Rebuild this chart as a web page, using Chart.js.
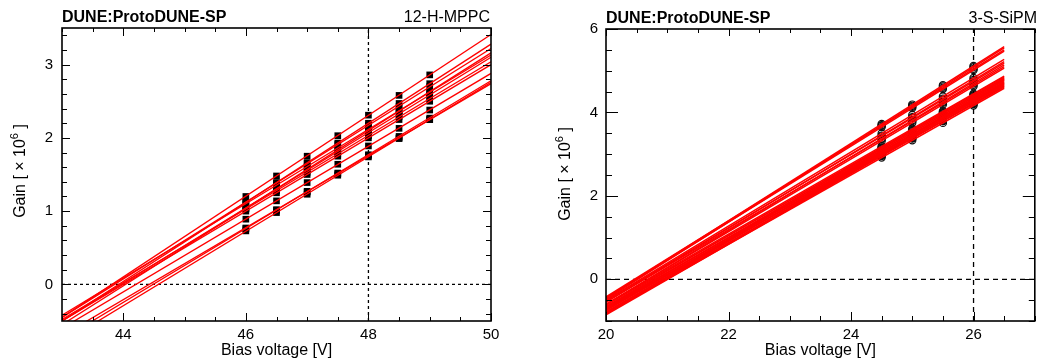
<!DOCTYPE html>
<html><head><meta charset="utf-8">
<script src="https://cdn.jsdelivr.net/npm/chart.js@4.4.1/dist/chart.umd.min.js"></script>
<style>
html,body{margin:0;padding:0;background:#fff;overflow:hidden}
#wrap{position:relative;width:1040px;height:363px;background:#fff}
canvas{position:absolute;top:0}
</style></head><body>
<div id="wrap">
<canvas id="c1" width="520" height="363" style="left:0"></canvas>
<canvas id="c2" width="520" height="363" style="left:520px"></canvas>
</div>
<script>
// ===== Left panel: 12-H-MPPC =====
const mppcVoltages = [46, 46.5, 47, 47.5, 48, 48.5, 49];
const mppcGain = [
  [1.20, 1.48, 1.75, 2.03, 2.31, 2.58, 2.86],
  [1.12, 1.39, 1.66, 1.93, 2.20, 2.47, 2.74],
  [1.12, 1.38, 1.65, 1.91, 2.17, 2.43, 2.70],
  [1.04, 1.31, 1.57, 1.84, 2.10, 2.37, 2.63],
  [1.10, 1.35, 1.61, 1.86, 2.12, 2.37, 2.62],
  [1.04, 1.30, 1.56, 1.81, 2.07, 2.33, 2.59],
  [1.03, 1.28, 1.53, 1.78, 2.03, 2.29, 2.54],
  [1.00, 1.25, 1.50, 1.75, 2.00, 2.25, 2.50],
  [0.89, 1.14, 1.39, 1.64, 1.89, 2.13, 2.38],
  [0.76, 1.01, 1.27, 1.52, 1.77, 2.02, 2.27],
  [0.73, 0.98, 1.23, 1.49, 1.74, 1.99, 2.25],
  [0.77, 1.02, 1.26, 1.51, 1.76, 2.00, 2.25]
];
const mppcFitRange = [43, 50];
const mppcFitGainStart = [-0.45, -0.50, -0.45, -0.55, -0.42, -0.50, -0.48, -0.50, -0.60, -0.75, -0.80, -0.70];
const mppcFitGainEnd   = [ 3.41,  3.28,  3.22,  3.16,  3.13,  3.10,  3.04,  3.00,  2.88,  2.78,  2.76,  2.74];
const mppcXTicks = [44, 46, 48, 50];
const mppcYTicks = [0, 1, 2, 3];
const mppcRefVoltage = 48;

// ===== Right panel: 3-S-SiPM =====
const sipmVoltages = [24.5, 25, 25.5, 26];
const sipmGain = [
  [3.725, 4.188, 4.652, 5.116],
  [3.695, 4.158, 4.622, 5.086],
  [3.678, 4.134, 4.589, 5.045],
  [3.648, 4.104, 4.559, 5.015],
  [3.495, 3.938, 4.382, 4.826],
  [3.445, 3.888, 4.332, 4.776],
  [3.426, 3.865, 4.303, 4.742],
  [3.374, 3.815, 4.257, 4.698],
  [3.362, 3.796, 4.231, 4.665],
  [3.318, 3.754, 4.189, 4.625],
  [3.187, 3.608, 4.029, 4.449],
  [3.158, 3.581, 4.004, 4.427],
  [3.128, 3.554, 3.979, 4.405],
  [3.139, 3.557, 3.975, 4.392],
  [3.085, 3.512, 3.938, 4.364],
  [3.100, 3.520, 3.940, 4.360],
  [3.049, 3.477, 3.905, 4.332],
  [3.060, 3.480, 3.900, 4.320],
  [3.028, 3.451, 3.874, 4.297],
  [3.051, 3.463, 3.875, 4.288],
  [2.992, 3.416, 3.841, 4.265],
  [3.005, 3.421, 3.838, 4.254],
  [2.958, 3.381, 3.804, 4.227],
  [2.962, 3.379, 3.796, 4.213],
  [2.976, 3.384, 3.793, 4.201],
  [2.918, 3.334, 3.749, 4.165]
];
const sipmFitRange = [20, 26.5];
const sipmFitGainStart = [-0.45,-0.48,-0.42,-0.45,-0.50,-0.55,-0.52,-0.60,-0.55,-0.60,-0.60,-0.65,-0.70,-0.62,-0.75,-0.68,-0.80,-0.72,-0.78,-0.66,-0.83,-0.74,-0.85,-0.79,-0.70,-0.82];
const sipmFitGainEnd   = [ 5.58, 5.55, 5.50, 5.47, 5.27, 5.22, 5.18, 5.14, 5.10, 5.06, 4.87, 4.85, 4.83, 4.81, 4.79, 4.78, 4.76, 4.74, 4.72, 4.70, 4.69, 4.67, 4.65, 4.63, 4.61, 4.58];
const sipmXTicks = [20, 22, 24, 26];
const sipmYTicks = [0, 2, 4, 6];
const sipmRefVoltage = 26;

const experimentLabel = 'DUNE:ProtoDUNE-SP';
const xTitle = 'Bias voltage [V]';

Chart.defaults.font.family = "'Liberation Sans', Arial, Helvetica, sans-serif";
Chart.defaults.color = '#000';

function framePlugin(cfg) {
  return {
    id: 'frame',
    afterDatasetsDraw(chart) {
      const ctx = chart.ctx, a = chart.chartArea, x = chart.scales.x, y = chart.scales.y;
      ctx.save();
      ctx.strokeStyle = '#000';
      ctx.lineWidth = 1;
      const seg = (x1, y1, x2, y2) => { ctx.beginPath(); ctx.moveTo(x1, y1); ctx.lineTo(x2, y2); ctx.stroke(); };
      const xi0 = Math.ceil(x.min / cfg.xStep - 1e-9), xi1 = Math.floor(x.max / cfg.xStep + 1e-9);
      for (let i = xi0; i <= xi1; i++) {
        const v = i * cfg.xStep;
        const px = Math.round(x.getPixelForValue(v)) + 0.5;
        const major = cfg.xTicks.some(t => Math.abs(t - v) < 1e-6);
        seg(px, a.bottom, px, a.bottom - (major ? cfg.xMajor : cfg.xMinor));
        seg(px, a.top, px, a.top + (major ? cfg.xMajorTop : cfg.xMinorTop));
      }
      const yi0 = Math.ceil(y.min / cfg.yStep - 1e-9), yi1 = Math.floor(y.max / cfg.yStep + 1e-9);
      for (let i = yi0; i <= yi1; i++) {
        const v = i * cfg.yStep;
        const py = Math.round(y.getPixelForValue(v)) + 0.5;
        const major = cfg.yTicks.some(t => Math.abs(t - v) < 1e-6);
        seg(a.left, py, a.left + (major ? cfg.yMajor : cfg.yMinor), py);
        seg(a.right, py, a.right - (major ? cfg.yMajorR : cfg.yMinorR), py);
      }
      ctx.lineWidth = 1.6;
      ctx.strokeRect(a.left, a.top, a.width, a.height);
      ctx.fillStyle = '#000';
      ctx.textBaseline = 'alphabetic';
      ctx.font = "bold 16px 'Liberation Sans', Arial, sans-serif";
      ctx.textAlign = 'left';
      ctx.fillText(experimentLabel, a.left, cfg.headerY);
      ctx.font = "16px 'Liberation Sans', Arial, sans-serif";
      ctx.textAlign = 'right';
      ctx.fillText(cfg.tag, cfg.tagRight, cfg.headerY);
      ctx.translate(cfg.yTitleX, cfg.yTitleY);
      ctx.rotate(-Math.PI / 2);
      const big = "16px 'Liberation Sans', Arial, sans-serif";
      const small = "11px 'Liberation Sans', Arial, sans-serif";
      const parts = [['Gain [ \u00d7 10', big, 0], ['6', small, -7], [' ]', big, 0]];
      let w = 0;
      parts.forEach(p => { ctx.font = p[1]; w += ctx.measureText(p[0]).width; });
      let cx = -w / 2;
      ctx.textAlign = 'left';
      parts.forEach(p => { ctx.font = p[1]; ctx.fillText(p[0], cx, p[2]); cx += ctx.measureText(p[0]).width; });
      ctx.restore();
    }
  };
}

function makeChart(id, d) {
  const datasets = [];
  d.fitStart.forEach((g0, i) => {
    datasets.push({
      type: 'scatter', showLine: true, order: 0,
      data: [{x: d.fitRange[0], y: g0}, {x: d.fitRange[1], y: d.fitEnd[i]}],
      borderColor: '#ff0000', borderWidth: d.fitWidth, pointRadius: 0, fill: false
    });
  });
  d.gain.forEach(row => {
    datasets.push({
      type: 'scatter', showLine: false, order: 2,
      data: row.map((g, j) => ({x: d.volts[j], y: g})),
      pointStyle: d.pointStyle, pointRadius: d.pointRadius,
      backgroundColor: d.pointFill, borderColor: '#111', borderWidth: d.pointBorder
    });
  });
  datasets.push({
    type: 'scatter', showLine: true, order: 1,
    data: [{x: d.xMin, y: 0}, {x: d.xMax, y: 0}],
    borderColor: '#000', borderWidth: 1.3, borderDash: d.dash, pointRadius: 0
  });
  datasets.push({
    type: 'scatter', showLine: true, order: 1,
    data: [{x: d.refV, y: d.yMin}, {x: d.refV, y: d.yMax}],
    borderColor: '#000', borderWidth: 1.3, borderDash: d.dash, pointRadius: 0
  });
  return new Chart(document.getElementById(id), {
    type: 'scatter',
    data: { datasets },
    options: {
      responsive: false, animation: false, devicePixelRatio: 1,
      layout: { padding: { top: d.padTop, right: d.padRight, left: 0, bottom: 0 } },
      plugins: { legend: { display: false }, tooltip: { enabled: false } },
      scales: {
        x: {
          type: 'linear', min: d.xMin, max: d.xMax,
          grid: { display: false, drawTicks: false }, border: { display: false },
          ticks: { autoSkip: false, padding: 5, font: { size: 15 }, color: '#000', maxRotation: 0 },
          afterBuildTicks: s => { s.ticks = d.xTicks.map(v => ({ value: v })); },
          afterFit: s => { s.height = d.xAxisH; },
          title: { display: true, text: xTitle, font: { size: 16 }, color: '#000', padding: { top: 0, bottom: 3 } }
        },
        y: {
          type: 'linear', min: d.yMin, max: d.yMax,
          grid: { display: false, drawTicks: false }, border: { display: false },
          ticks: { autoSkip: false, padding: d.yPad, font: { size: 15 }, color: '#000' },
          afterBuildTicks: s => { s.ticks = d.yTicks.map(v => ({ value: v })); },
          afterFit: s => { s.width = d.yAxisW; }
        }
      }
    },
    plugins: [framePlugin(d.frame)]
  });
}

makeChart('c1', {
  volts: mppcVoltages, gain: mppcGain, fitRange: mppcFitRange, fitStart: mppcFitGainStart, fitEnd: mppcFitGainEnd,
  xMin: 43, xMax: 50, yMin: -0.5, yMax: 3.5, xTicks: mppcXTicks, yTicks: mppcYTicks, refV: mppcRefVoltage,
  fitWidth: 1.3, pointStyle: 'rect', pointRadius: 4.7, pointFill: '#000', pointBorder: 0,
  dash: [3, 3], padTop: 28, padRight: 29, xAxisH: 42, yAxisW: 62, yPad: 9,
  frame: { xStep: 0.5, yStep: 0.2, xTicks: mppcXTicks, yTicks: mppcYTicks,
    xMajor: 8, xMinor: 4, xMajorTop: 8, xMinorTop: 4, yMajor: 8, yMinor: 5, yMajorR: 8, yMinorR: 5,
    headerY: 21.5, tag: '12-H-MPPC', tagRight: 490, yTitleX: 25, yTitleY: 171 }
});

makeChart('c2', {
  volts: sipmVoltages, gain: sipmGain, fitRange: sipmFitRange, fitStart: sipmFitGainStart, fitEnd: sipmFitGainEnd,
  xMin: 20, xMax: 27, yMin: -1, yMax: 6, xTicks: sipmXTicks, yTicks: sipmYTicks, refV: sipmRefVoltage,
  fitWidth: 1.5, pointStyle: 'circle', pointRadius: 3.6, pointFill: 'rgba(0,0,0,0)', pointBorder: 1.2,
  dash: [5, 4], padTop: 29, padRight: 4, xAxisH: 42, yAxisW: 86, yPad: 8,
  frame: { xStep: 0.5, yStep: 0.5, xTicks: sipmXTicks, yTicks: sipmYTicks,
    xMajor: 9, xMinor: 5, xMajorTop: 7, xMinorTop: 4, yMajor: 12, yMinor: 6, yMajorR: 12, yMinorR: 6,
    headerY: 23, tag: '3-S-SiPM', tagRight: 517, yTitleX: 50, yTitleY: 174 }
});
</script>
</body></html>
